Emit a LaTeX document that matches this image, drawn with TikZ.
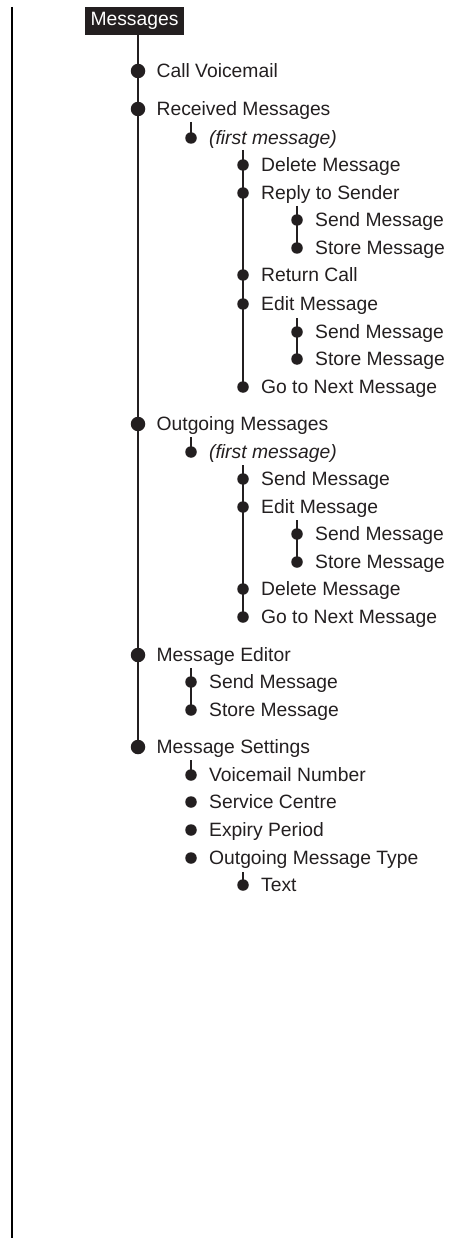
\documentclass[tikz,border=0pt]{standalone}
\usepackage{fontspec}
\setmainfont{Liberation Sans}
\usetikzlibrary{positioning}
\definecolor{ink}{HTML}{231F20}

\begin{document}
\begin{tikzpicture}[
  x=1pt,y=-1pt,
  bigdot/.style={circle, fill=ink, inner sep=0pt, minimum size=14.5pt},
  bullet/.style={circle, fill=ink, inner sep=0pt, minimum size=11.5pt},
  item/.style={font=\fontsize{19.3}{19.3}\selectfont, text=ink, inner sep=0pt,
    text height=13.8pt, text depth=0pt},
  stem/.style={draw=ink, line width=1.8pt},
  title/.style={fill=ink, text=white, font=\fontsize{19.3}{19.3}\selectfont,
    minimum width=99pt, minimum height=28pt, inner sep=0pt},
]
\useasboundingbox (0,0) rectangle (448,1238);

% Margin bar
\coordinate (bar-top) at (12,7);
\coordinate (bar-bot) at (12,1238);
\draw[black, line width=2pt] (bar-top) -- (bar-bot);

% Menu title
\node[title] (box) at (134.5,21) {Messages};

% Level 1
\foreach \n/\y/\t in {cv/71/Call Voicemail, rm/109/Received Messages,
    om/424/Outgoing Messages, me/655/Message Editor, ms/747/Message Settings}{
  \node[bigdot] (\n) at (138,\y) {};
  \node[item, right=11pt of \n] (\n-t) {\t};
}

% Received Messages
\node[bullet] (rf) at (191,138) {};
\node[item, right=12pt of rf] (rf-t) {\itshape (first message)};
\foreach \n/\y/\t in {rd/165/Delete Message, rr/193/Reply to Sender,
    rc/275/Return Call, re/304/Edit Message, rn/387/Go to Next Message}{
  \node[bullet] (\n) at (243,\y) {};
  \node[item, right=12pt of \n] (\n-t) {\t};
}
\foreach \n/\y/\t in {rrs/220/Send Message, rrt/248/Store Message,
    res/332/Send Message, ret/359/Store Message}{
  \node[bullet] (\n) at (297,\y) {};
  \node[item, right=12pt of \n] (\n-t) {\t};
}

% Outgoing Messages
\node[bullet] (of) at (191,452) {};
\node[item, right=12pt of of] (of-t) {\itshape (first message)};
\foreach \n/\y/\t in {os/479/Send Message, oe/507/Edit Message,
    od/589/Delete Message, on/617/Go to Next Message}{
  \node[bullet] (\n) at (243,\y) {};
  \node[item, right=12pt of \n] (\n-t) {\t};
}
\foreach \n/\y/\t in {oes/534/Send Message, oet/562/Store Message}{
  \node[bullet] (\n) at (297,\y) {};
  \node[item, right=12pt of \n] (\n-t) {\t};
}

% Message Editor
\foreach \n/\y/\t in {mes/682/Send Message, met/710/Store Message}{
  \node[bullet] (\n) at (191,\y) {};
  \node[item, right=12pt of \n] (\n-t) {\t};
}

% Message Settings
\foreach \n/\y/\t in {msv/775/Voicemail Number, msc/802/Service Centre,
    mse/830/Expiry Period, mso/858/Outgoing Message Type}{
  \node[bullet] (\n) at (191,\y) {};
  \node[item, right=12pt of \n] (\n-t) {\t};
}
\node[bullet] (mst) at (243,885) {};
\node[item, right=12pt of mst] (mst-t) {Text};

% Stems
\draw[stem] (cv |- box.south) -- (ms.center);
\coordinate (rf-top) at (191,122);
\coordinate (rd-top) at (243,150);
\coordinate (rrs-top) at (297,206);
\coordinate (res-top) at (297,318);
\coordinate (of-top) at (191,437);
\coordinate (os-top) at (243,465);
\coordinate (oes-top) at (297,520);
\coordinate (mes-top) at (191,668);
\coordinate (msv-top) at (191,760);
\coordinate (mst-top) at (243,872);
\draw[stem] (rf-top) -- (rf.center);
\draw[stem] (rd-top) -- (rn.center);
\draw[stem] (rrs-top) -- (rrt.center);
\draw[stem] (res-top) -- (ret.center);
\draw[stem] (of-top) -- (of.center);
\draw[stem] (os-top) -- (on.center);
\draw[stem] (oes-top) -- (oet.center);
\draw[stem] (mes-top) -- (met.center);
\draw[stem] (msv-top) -- (msv.center);
\draw[stem] (mst-top) -- (mst.center);

\end{tikzpicture}
\end{document}
